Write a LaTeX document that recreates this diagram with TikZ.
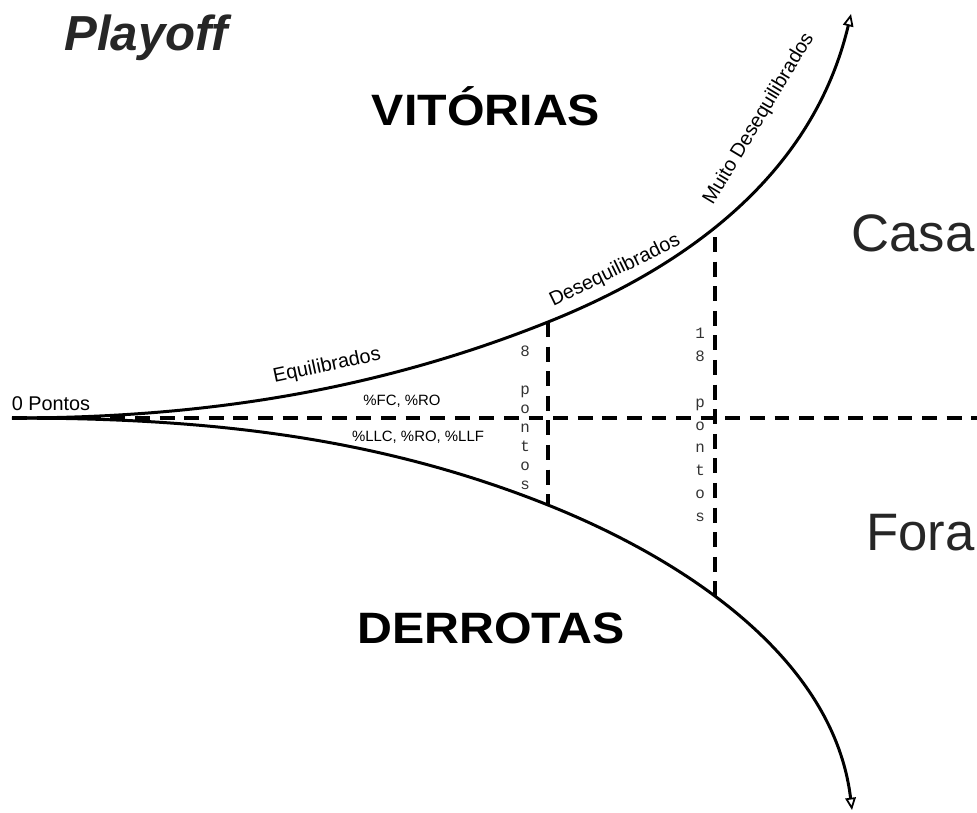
\documentclass[tikz,border=0pt]{standalone}
\usepackage{fontspec}
\setmainfont{Liberation Sans}
\setmonofont{Liberation Mono}
\usetikzlibrary{arrows.meta}
\tikzset{
    curva/.style={
           line width=1.7pt,
           -{Triangle[open,length=7pt,width=6pt,line width=1pt]}},
    tracejado/.style={
           line width=1.9pt,
           dash pattern=on 8.5pt off 5.5pt},
    titulo/.style = {inner sep=0pt, font=\fontsize{25}{28}\selectfont\bfseries},
    lado/.style = {inner sep=0pt, text=black!85, font=\fontsize{30}{32}\selectfont},
    rotulo/.style = {inner sep=0pt, font=\fontsize{11.3}{13}\selectfont},
    perc/.style = {inner sep=0pt, font=\fontsize{8.5}{10}\selectfont},
    pontos/.style = {inner sep=0pt, align=center, text=black!80,
      font=\ttfamily\fontsize{9}{10.8}\selectfont}
    }

\begin{document}
\begin{tikzpicture}[x=0.02cm,y=-0.02cm]
      \useasboundingbox (0,0) rectangle (977,812);
      \coordinate (o) at (12,418);
      \coordinate (c1) at (548,322);
      \coordinate (c2) at (715,237);
      \coordinate (b1) at (548,505);
      \coordinate (b2) at (715,596);
      \coordinate (fim) at (977,418);
      \coordinate (topo) at (851,14);
      \coordinate (base) at (852,810);
      \node[inner sep=0pt, text=black!85, font=\fontsize{28}{30}\selectfont\bfseries\itshape] (0) at (146,38) {Playoff};
      \node[titulo] (1) at (486,106) {\scalebox{1.1}[1]{VITÓRIAS}};
      \node[titulo] (2) at (491,628) {\scalebox{1.1}[1]{DERROTAS}};
      \node[lado, anchor=east] (3) at (975,233) {Casa};
      \node[lado, anchor=east] (4) at (975,533) {Fora};
      \node[rotulo] (5) at (51,404) {0 Pontos};
      \node[rotulo, rotate=12] (6) at (327,366) {Equilibrados};
      \node[rotulo, rotate=26] (7) at (615,271) {Desequilibrados};
      \node[rotulo, rotate=59] (8) at (759,119) {Muito Desequilibrados};
      \node[perc] (9) at (402,401) {\%FC, \%RO};
      \node[perc] (10) at (418,437) {\%LLC, \%RO, \%LLF};
      \node[pontos] (11) at (525,418) {8\\ \\p\\o\\n\\t\\o\\s};
      \node[pontos, font=\ttfamily\fontsize{9}{13}\selectfont] (12) at (700,425) {1\\8\\ \\p\\o\\n\\t\\o\\s};
      \draw[tracejado] (o) -- (fim);
      \draw[tracejado] (c1) -- (b1);
      \draw[tracejado] (c2) -- (b2);
      \draw[curva] (o) .. controls (192,418) and (368,394) .. (c1)
                       .. controls (688,266) and (813,174) .. (topo);
      \draw[curva] (o) .. controls (192,418) and (368,433) .. (b1)
                       .. controls (688,561) and (834,660) .. (base);
\end{tikzpicture}
\end{document}
